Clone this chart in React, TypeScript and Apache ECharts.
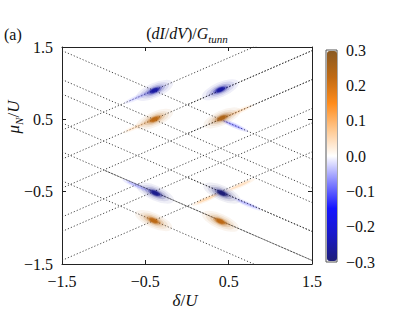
import React, { useEffect, useRef } from "react";
import * as echarts from "echarts";

// ---- data ----
const xTickValues = [-1.5, -0.5, 0.5, 1.5];
const yTickValues = [-1.5, -0.5, 0.5, 1.5];
const colorTickValues = [-0.3, -0.2, -0.1, 0.0, 0.1, 0.2, 0.3];

// dotted resonance lines: mu = slope * delta / 2 + offset
const downLineOffsets = [0.7, 0.3, 0.1, -0.3, -0.7, -1.1]; // slope -1
const upLineOffsets = [1.1, 0.7, 0.3, -0.1, -0.3, -0.7]; // slope +1

// parts of lines drawn with denser dashes
const denseLineSlope = [1, 1, -1, -1];
const denseLineOffset = [0.7, 0.3, -0.7, -0.3];
const denseLineFrom = [0.0, 0.0, -1.0, 0.0];

// conductance peaks
const spotDelta = [-0.39, 0.4, -0.39, 0.42, -0.38, 0.42, -0.4, 0.4];
const spotMu = [0.9, 0.91, 0.5, 0.52, -0.52, -0.52, -0.9, -0.91];
const spotValue = [-0.26, -0.26, 0.23, 0.25, -0.28, -0.3, 0.23, 0.23];
const spotSlope = [1, 1, 1, 1, -1, -1, -1, -1];

// weaker tails along the resonance lines
const tailDelta = [-0.58, 0.56, 0.62, 0.24, 0.64, 0.72, -0.6, -0.6];
const tailMu = [0.81, 0.42, 0.61, -0.6, -0.41, -0.67, -0.42, 0.4];
const tailValue = [-0.08, -0.14, 0.1, 0.12, 0.1, -0.1, -0.1, 0.08];
const tailSlope = [1, -1, 1, 1, 1, -1, -1, 1];

// ---- layout ----
const W = 415;
const H = 312;
const GL = 62;
const GT = 47;
const GW = 250;
const GH = 217;
const FONT = "'Liberation Serif', 'DejaVu Serif', serif";

const fmt = (v: number) => {
  const r = Math.round(v * 10) / 10;
  return (r < 0 ? "\u2212" : "") + Math.abs(r).toFixed(1);
};

export default function App() {
  const ref = useRef<HTMLDivElement>(null);
  useEffect(() => {
    if (!ref.current) return;
    const chart = echarts.init(ref.current, undefined, { renderer: "svg" });
    const angle = (Math.atan((0.5 * (GH / 3)) / (GW / 3)) * 180) / Math.PI;

    const lineSeries: any[] = [];
    const addLine = (s: number, c: number, from: number, style: any) => {
      lineSeries.push({
        type: "line",
        xAxisIndex: 0,
        yAxisIndex: 0,
        silent: true,
        symbol: "none",
        clip: true,
        z: 1,
        lineStyle: style,
        data: [
          [from, (s * from) / 2 + c],
          [1.5, (s * 1.5) / 2 + c],
        ],
      });
    };
    const dotted = { color: "#333", width: 0.9, type: [1.2, 2] };
    downLineOffsets.forEach((c) => addLine(-1, c, -1.5, dotted));
    upLineOffsets.forEach((c) => addLine(1, c, -1.5, dotted));
    denseLineSlope.forEach((s, i) =>
      addLine(s, denseLineOffset[i], denseLineFrom[i], { color: "#333", width: 0.8, type: [1.6, 1.6], dashOffset: 1.8 })
    );

    const ellipse = "path://M0,50 A50,50 0 1,0 100,50 A50,50 0 1,0 0,50 Z";
    const spotLayers = [
      { w: 40, h: 15, op: 0.07 },
      { w: 31, h: 11.5, op: 0.1 },
      { w: 23, h: 8.5, op: 0.18 },
      { w: 16, h: 6.2, op: 0.35 },
      { w: 11, h: 4.5, op: 0.7 },
      { w: 7, h: 3.2, op: 1 },
    ];
    const tailLayers = [
      { w: 32, h: 5, op: 0.12 },
      { w: 22, h: 2.5, op: 0.3 },
    ];
    const scatterSeries: any[] = [];
    tailLayers.forEach((L) => {
      scatterSeries.push({
        type: "scatter",
        xAxisIndex: 0,
        yAxisIndex: 0,
        silent: true,
        z: 2,
        symbol: ellipse,
        symbolSize: [L.w, L.h],
        itemStyle: { opacity: L.op },
        data: tailDelta.map((d, i) => ({
          value: [d, tailMu[i], tailValue[i]],
          symbolRotate: tailSlope[i] * angle,
        })),
      });
    });
    spotLayers.forEach((L) => {
      scatterSeries.push({
        type: "scatter",
        xAxisIndex: 0,
        yAxisIndex: 0,
        silent: true,
        z: 3,
        symbol: ellipse,
        symbolSize: [L.w, L.h],
        itemStyle: { opacity: L.op },
        data: spotDelta.map((d, i) => ({
          value: [d, spotMu[i], spotValue[i]],
          symbolRotate: spotSlope[i] * angle,
        })),
      });
    });
    const scatterStart = lineSeries.length;
    const scatterIdx = scatterSeries.map((_, i) => scatterStart + i);

    const labelStyle = { fontFamily: FONT, fontSize: 16, color: "#111" };
    const frameAxis = (pos: string, labels: boolean, values: number[]) => ({
      type: "value",
      gridIndex: 0,
      min: -1.5,
      max: 1.5,
      interval: 1,
      position: pos,
      axisLine: { show: true, onZero: false, lineStyle: { color: "#222", width: 1 } },
      axisTick: { show: true, inside: true, length: 4, lineStyle: { color: "#222" } },
      splitLine: { show: false },
      axisLabel: labels
        ? {
            show: true,
            ...labelStyle,
            margin: 9,
            formatter: (v: number) => (values.some((t) => Math.abs(t - v) < 1e-6) ? fmt(v) : ""),
          }
        : { show: false },
    });

    const option: any = {
      animation: false,
      backgroundColor: "#fff",
      grid: [
        { left: GL, top: GT, width: GW, height: GH, show: false },
        { left: 326, top: 50, width: 11, height: 212, show: true, borderColor: "#555", borderWidth: 1, backgroundColor: "transparent" },
      ],
      xAxis: [
        frameAxis("bottom", true, xTickValues),
        frameAxis("top", false, xTickValues),
        { type: "value", gridIndex: 1, show: false, min: 0, max: 1 },
      ],
      yAxis: [
        frameAxis("left", true, yTickValues),
        frameAxis("right", false, yTickValues),
        {
          type: "value",
          gridIndex: 1,
          min: -0.3,
          max: 0.3,
          interval: 0.1,
          position: "right",
          axisLine: { show: false },
          axisTick: { show: false },
          splitLine: { show: false },
          axisLabel: {
            ...labelStyle,
            margin: 9,
            formatter: (v: number) =>
              colorTickValues.some((t) => Math.abs(t - v) < 1e-6) ? fmt(v) : "",
          },
        },
      ],
      visualMap: {
        type: "continuous",
        min: -0.3,
        max: 0.3,
        dimension: 2,
        seriesIndex: scatterIdx,
        calculable: false,
        show: true,
        left: 327,
        top: 51,
        itemWidth: 10,
        itemHeight: 210,
        padding: 0,
        z: 10,
        inRange: {
          color: ["#1e1e78", "#1818c8", "#1414ff", "#8484ff", "#ffffff", "#ffc890", "#ff8c1c", "#c06a14", "#8a5a22"],
        },
      },
      graphic: [
        {
          type: "text",
          x: 187,
          y: 33,
          style: {
            text: "{n|(}{i|dI}{n|/}{i|dV}{n|)/}{i|G}{s|tunn}",
            textAlign: "center",
            textVerticalAlign: "middle",
            rich: {
              n: { fontFamily: FONT, fontSize: 16, fill: "#111", lineHeight: 22, verticalAlign: "middle" },
              i: { fontFamily: FONT, fontSize: 16, fontStyle: "italic", fill: "#111", lineHeight: 22, verticalAlign: "middle" },
              s: { fontFamily: FONT, fontSize: 11, fontStyle: "italic", fill: "#111", lineHeight: 22, verticalAlign: "bottom" },
            },
          },
        },
        {
          type: "text",
          x: 4,
          y: 34,
          style: { text: "(a)", fontFamily: FONT, fontSize: 16, fill: "#111", textVerticalAlign: "middle" },
        },
        {
          type: "text",
          x: 185,
          y: 300,
          style: {
            text: "{i|\u03b4}{n|/}{i|U}",
            textAlign: "center",
            textVerticalAlign: "middle",
            rich: {
              n: { fontFamily: FONT, fontSize: 17, fill: "#111" },
              i: { fontFamily: FONT, fontSize: 17, fontStyle: "italic", fill: "#111" },
            },
          },
        },
        {
          type: "text",
          x: 13,
          y: 117,
          rotation: Math.PI / 2,
          style: {
            text: "{i|\u03bc}{s|N}{n|/}{i|U}",
            textAlign: "center",
            textVerticalAlign: "middle",
            rich: {
              n: { fontFamily: FONT, fontSize: 17, fill: "#111", lineHeight: 22, verticalAlign: "middle" },
              i: { fontFamily: FONT, fontSize: 17, fontStyle: "italic", fill: "#111", lineHeight: 22, verticalAlign: "middle" },
              s: { fontFamily: FONT, fontSize: 11, fontStyle: "italic", fill: "#111", lineHeight: 22, verticalAlign: "bottom" },
            },
          },
        },
      ],
      series: [...lineSeries, ...scatterSeries],
    };
    chart.setOption(option);
    return () => chart.dispose();
  }, []);
  return <div ref={ref} style={{ position: "fixed", left: 0, top: 0, width: W, height: H }} />;
}
